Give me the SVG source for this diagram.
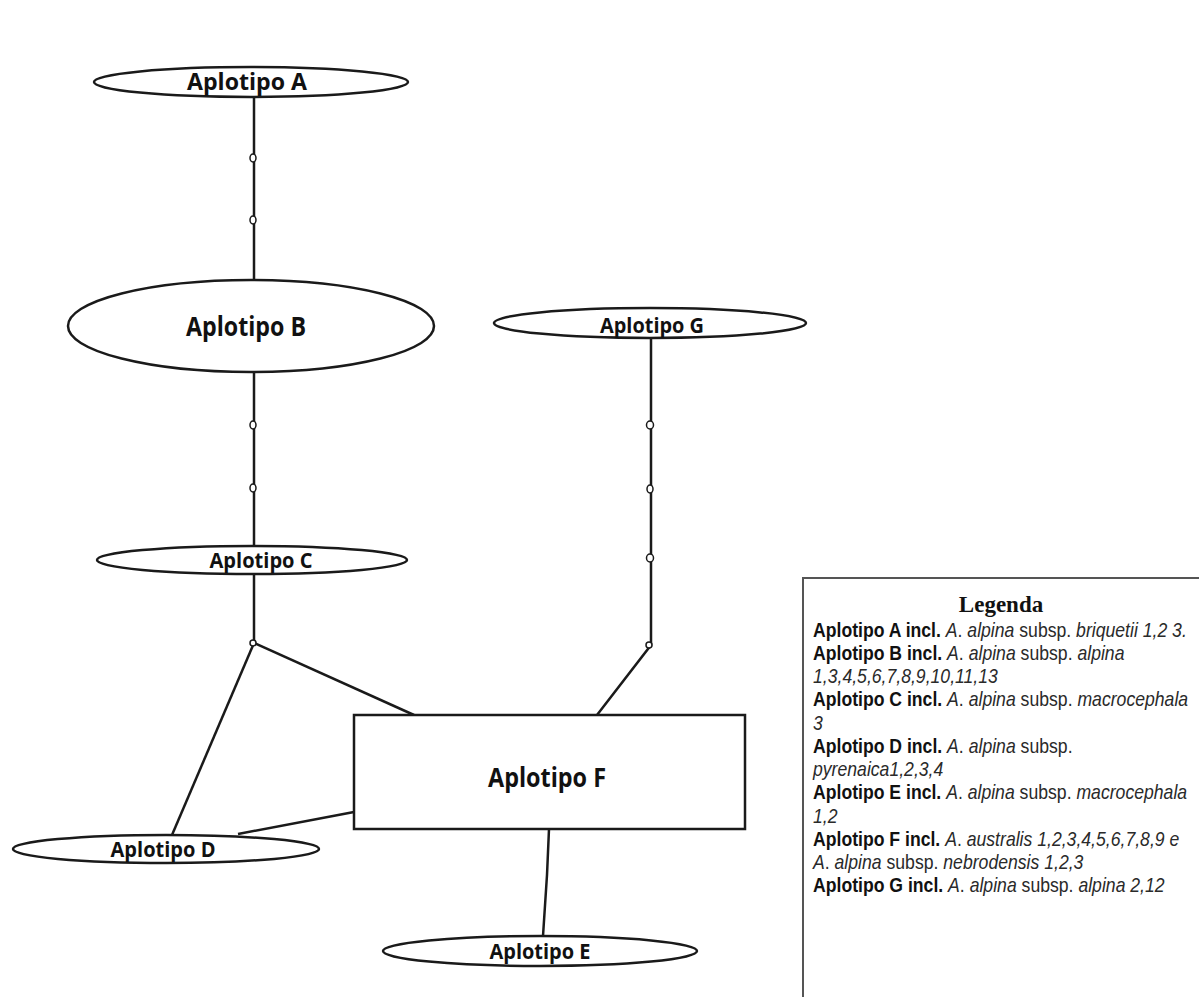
<svg xmlns="http://www.w3.org/2000/svg" width="1199" height="997" viewBox="0 0 1199 997">
<style>
.node ellipse, .node rect { fill: #fff; stroke: #1a1a1a; stroke-width: 2.5; }
.lbl { font-family: "Open Sans", "Noto Sans", "Liberation Sans", sans-serif; font-weight: 700; fill: #111; text-anchor: middle; }
.edges line, .edges polyline { stroke: #1a1a1a; stroke-width: 2.5; fill: none; }
.mk { fill: #fff; stroke: #1a1a1a; stroke-width: 1.5; }
.leg { font-family: "Liberation Sans", Arial, sans-serif; font-size: 20.5px; fill: #1a1a1a; }
.b { font-weight: 700; fill: #111; }
.i { font-style: italic; fill: #2a2a2a; }
.r { fill: #2a2a2a; }
</style>
<rect x="0" y="0" width="1199" height="997" fill="#fff"/>

<g class="edges" id="connectors">
  <line x1="254" y1="97" x2="254" y2="280"/>
  <line x1="254" y1="372" x2="254" y2="546"/>
  <line x1="254" y1="573" x2="254" y2="643"/>
  <line x1="254" y1="643" x2="414" y2="715"/>
  <line x1="254" y1="643" x2="172" y2="835"/>
  <line x1="354" y1="812" x2="238" y2="834"/>
  <polyline points="651,338 651,645 597,715"/>
  <polyline points="549,829 547,875 543,936"/>
  <ellipse class="mk" cx="253" cy="158" rx="3" ry="4"/>
  <ellipse class="mk" cx="253" cy="220" rx="3" ry="4"/>
  <ellipse class="mk" cx="253" cy="425" rx="3" ry="4"/>
  <ellipse class="mk" cx="253" cy="488" rx="3" ry="4"/>
  <ellipse class="mk" cx="650" cy="425" rx="3.5" ry="4"/>
  <ellipse class="mk" cx="650" cy="489" rx="3" ry="4"/>
  <ellipse class="mk" cx="650" cy="558" rx="3.5" ry="4"/>
  <ellipse class="mk" cx="649" cy="645" rx="3" ry="3"/>
  <ellipse class="mk" cx="253" cy="643" rx="3" ry="3"/>
</g>

<g class="node" id="node-A">
  <ellipse cx="251" cy="82" rx="157" ry="15"/>
  <text class="lbl" x="247" y="90" font-size="24" textLength="120" lengthAdjust="spacingAndGlyphs">Aplotipo A</text>
</g>
<g class="node" id="node-B">
  <ellipse cx="251" cy="326" rx="183" ry="46"/>
  <text class="lbl" x="246" y="336" font-size="26" textLength="120" lengthAdjust="spacingAndGlyphs">Aplotipo B</text>
</g>
<g class="node" id="node-C">
  <ellipse cx="252" cy="560" rx="155" ry="14"/>
  <text class="lbl" x="261" y="568" font-size="21" textLength="103" lengthAdjust="spacingAndGlyphs">Aplotipo C</text>
</g>
<g class="node" id="node-G">
  <ellipse cx="650" cy="323" rx="156" ry="15"/>
  <text class="lbl" x="652" y="333" font-size="21" textLength="104" lengthAdjust="spacingAndGlyphs">Aplotipo G</text>
</g>
<g class="node" id="node-F">
  <rect x="354" y="715" width="391" height="114"/>
  <text class="lbl" x="547" y="787" font-size="26" textLength="118" lengthAdjust="spacingAndGlyphs">Aplotipo F</text>
</g>
<g class="node" id="node-D">
  <ellipse cx="166" cy="849" rx="153" ry="14"/>
  <text class="lbl" x="163" y="857" font-size="21" textLength="105" lengthAdjust="spacingAndGlyphs">Aplotipo D</text>
</g>
<g class="node" id="node-E">
  <ellipse cx="540" cy="951" rx="157" ry="15"/>
  <text class="lbl" x="540" y="959" font-size="21" textLength="101" lengthAdjust="spacingAndGlyphs">Aplotipo E</text>
</g>

<g id="legend">
  <rect x="803" y="578" width="410" height="430" fill="#fff" stroke="#555" stroke-width="2"/>
  <text x="1001" y="612" font-family="'Liberation Serif', 'Times New Roman', serif" font-weight="700" font-size="23" text-anchor="middle" fill="#111">Legenda</text>
  <g class="leg" transform="translate(813,0) scale(0.86,1)">
    <text x="0" y="637"><tspan class="b">Aplotipo A incl. </tspan><tspan class="i">A</tspan><tspan class="r">. </tspan><tspan class="i">alpina</tspan><tspan class="r"> subsp. </tspan><tspan class="i">briquetii 1,2 3.</tspan></text>
    <text x="0" y="660"><tspan class="b">Aplotipo B incl. </tspan><tspan class="i">A</tspan><tspan class="r">. </tspan><tspan class="i">alpina</tspan><tspan class="r"> subsp. </tspan><tspan class="i">alpina</tspan></text>
    <text x="0" y="683"><tspan class="i">1,3,4,5,6,7,8,9,10,11,13</tspan></text>
    <text x="0" y="706"><tspan class="b">Aplotipo C incl. </tspan><tspan class="i">A</tspan><tspan class="r">. </tspan><tspan class="i">alpina</tspan><tspan class="r"> subsp. </tspan><tspan class="i">macrocephala</tspan></text>
    <text x="0" y="730"><tspan class="i">3</tspan></text>
    <text x="0" y="753"><tspan class="b">Aplotipo D incl. </tspan><tspan class="i">A</tspan><tspan class="r">. </tspan><tspan class="i">alpina</tspan><tspan class="r"> subsp.</tspan></text>
    <text x="0" y="776"><tspan class="i">pyrenaica1,2,3,4</tspan></text>
    <text x="0" y="799"><tspan class="b">Aplotipo E incl. </tspan><tspan class="i">A</tspan><tspan class="r">. </tspan><tspan class="i">alpina</tspan><tspan class="r"> subsp. </tspan><tspan class="i">macrocephala</tspan></text>
    <text x="0" y="823"><tspan class="i">1,2</tspan></text>
    <text x="0" y="846"><tspan class="b">Aplotipo F incl. </tspan><tspan class="i">A</tspan><tspan class="r">. </tspan><tspan class="i">australis 1,2,3,4,5,6,7,8,9 e</tspan></text>
    <text x="0" y="869"><tspan class="i">A</tspan><tspan class="r">. </tspan><tspan class="i">alpina</tspan><tspan class="r"> subsp. </tspan><tspan class="i">nebrodensis 1,2,3</tspan></text>
    <text x="0" y="892"><tspan class="b">Aplotipo G incl. </tspan><tspan class="i">A</tspan><tspan class="r">. </tspan><tspan class="i">alpina</tspan><tspan class="r"> subsp. </tspan><tspan class="i">alpina 2,12</tspan></text>
  </g>
</g>
</svg>
